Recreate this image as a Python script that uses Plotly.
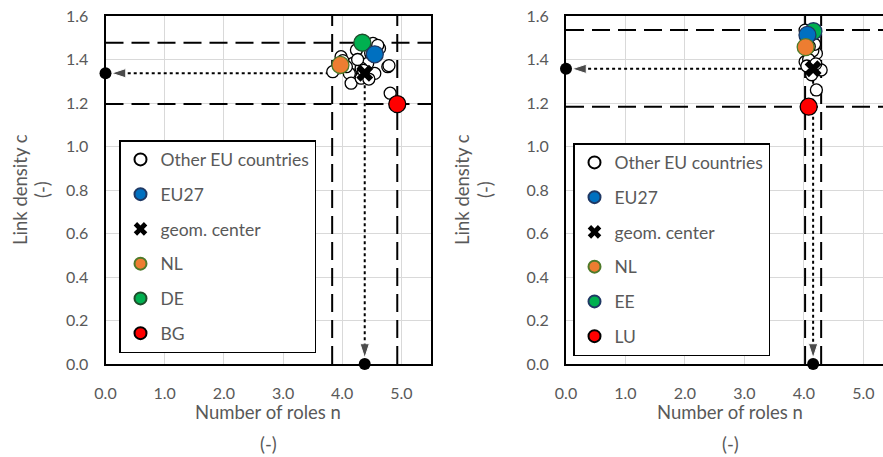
import plotly.graph_objects as go

# ---------------- data ----------------
L_other_n = [3.84, 3.98, 4.18, 4.12, 4.15, 4.32, 4.24, 4.52, 4.63, 4.55, 4.43, 4.77, 4.81,
             4.32, 4.07, 4.01, 4.60, 4.48, 4.26, 4.36, 4.79, 4.45]
L_other_c = [1.344, 1.413, 1.382, 1.336, 1.291, 1.314, 1.444, 1.474, 1.451, 1.336, 1.382, 1.367, 1.245,
             1.360, 1.367, 1.395, 1.465, 1.430, 1.400, 1.350, 1.372, 1.310]
L_named = ["EU27", "NL", "DE", "BG"]
L_named_n = [4.55, 3.97, 4.34, 4.93]
L_named_c = [1.424, 1.375, 1.477, 1.195]
L_center_n = [4.38]
L_center_c = [1.337]
L_bounds_n = [3.83, 4.93]
L_bounds_c = [1.195, 1.477]

R_other_n = [4.02, 4.21, 4.02, 4.29, 4.21, 4.06, 4.10, 4.12, 4.15, 4.08, 4.18, 4.05, 4.13,
             4.20, 4.11, 4.09]
R_other_c = [1.535, 1.428, 1.390, 1.352, 1.260, 1.500, 1.480, 1.520, 1.440, 1.400, 1.470, 1.370, 1.330,
             1.380, 1.510, 1.460]
R_named = ["EU27", "NL", "EE", "LU"]
R_named_n = [4.06, 4.03, 4.16, 4.08]
R_named_c = [1.513, 1.457, 1.530, 1.183]
R_center_n = [4.155]
R_center_c = [1.357]
R_bounds_n = [4.02, 4.29]
R_bounds_c = [1.183, 1.536]

x_ticks = [0, 1, 2, 3, 4, 5]
y_ticks = [0.0, 0.2, 0.4, 0.6, 0.8, 1.0, 1.2, 1.4, 1.6]

FONT = "Lato"
GRAY = "#595959"
W, H = 883, 457
colors = {"EU27": "#0070C0", "NL": "#ED7D31", "DE": "#00B050", "EE": "#00B050", "BG": "#FF0000", "LU": "#FF0000"}
edge = {"EU27": "#1F3864", "NL": "#4E7A2A", "DE": "#1E4D2B", "EE": "#1F3864", "BG": "#000000", "LU": "#000000"}
rank = {"EU27": 2, "NL": 4, "DE": 5, "EE": 5, "BG": 6, "LU": 6}

fig = go.Figure()


def add_panel(xa, ya, leg, other_n, other_c, names, nn, nc, cn, cc, bn, bc, xmax, draw_order):
    vx, vy = [], []
    for b in bn:
        vx += [b, b, None]
        vy += [0, 1.6, None]
    for b in bc:
        vx += [0, xmax, None]
        vy += [b, b, None]
    fig.add_trace(go.Scatter(x=vx, y=vy, mode="lines", xaxis=xa, yaxis=ya, showlegend=False,
                             line=dict(color="black", width=2, dash="18px,8px"), hoverinfo="skip"))
    for px, py in [([cn[0], 0], [cc[0], cc[0]]), ([cn[0], cn[0]], [cc[0], 0])]:
        fig.add_trace(go.Scatter(x=px, y=py, mode="lines+markers", xaxis=xa, yaxis=ya,
                                 showlegend=False, cliponaxis=False,
                                 line=dict(color="black", width=2, dash="dot"),
                                 marker=dict(symbol=["circle", "arrow"], size=[0, 15], color="black",
                                             angleref="previous", standoff=6), hoverinfo="skip"))
    fig.add_trace(go.Scatter(x=[0, cn[0]], y=[cc[0], 0], mode="markers", xaxis=xa, yaxis=ya,
                             showlegend=False, cliponaxis=False,
                             marker=dict(symbol="circle", size=12, color="black"), hoverinfo="skip"))
    fig.add_trace(go.Scatter(x=other_n, y=other_c, mode="markers", xaxis=xa, yaxis=ya, legend=leg,
                             name="Other EU countries", legendgroup=leg + "o", legendrank=1,
                             cliponaxis=False,
                             marker=dict(symbol="circle", size=12, color="white",
                                         line=dict(color="black", width=1.3))))
    fig.add_trace(go.Scatter(x=cn, y=cc, mode="markers", xaxis=xa, yaxis=ya, legend=leg,
                             name="geom. center", legendgroup=leg + "c", legendrank=3,
                             marker=dict(symbol="x", size=15, color="black",
                                         line=dict(color="black", width=0))))
    for nm in draw_order:
        i = names.index(nm)
        fig.add_trace(go.Scatter(x=[nn[i]], y=[nc[i]], mode="markers", xaxis=xa, yaxis=ya, legend=leg,
                                 name=nm, legendgroup=leg + nm, legendrank=rank[nm], cliponaxis=False,
                                 marker=dict(symbol="circle", size=17, color=colors[nm],
                                             line=dict(color=edge[nm], width=1.3))))


add_panel("x", "y", "legend", L_other_n, L_other_c, L_named, L_named_n, L_named_c,
          L_center_n, L_center_c, L_bounds_n, L_bounds_c, 5.5, ["NL", "DE", "EU27", "BG"])
add_panel("x2", "y2", "legend2", R_other_n, R_other_c, R_named, R_named_n, R_named_c,
          R_center_n, R_center_c, R_bounds_n, R_bounds_c, 5.33, ["EE", "EU27", "NL", "LU"])

ax_common = dict(showgrid=True, gridcolor="#d9d9d9", gridwidth=1, zeroline=False, showline=True,
                 linecolor="black", linewidth=2, ticks="", automargin=False,
                 tickfont=dict(family=FONT, size=16, color=GRAY))

yd = [1 - 364 / H, 1 - 16 / H]
fig.update_layout(
    width=W, height=H, margin=dict(l=0, r=0, t=0, b=0, pad=0, autoexpand=False),
    paper_bgcolor="white", plot_bgcolor="white",
    font=dict(family=FONT, color=GRAY),
    xaxis=dict(domain=[105.5 / W, 431 / W], range=[0, 5.5], tickvals=x_ticks, tickformat=".1f",
               mirror=True, anchor="y", ticklabelstandoff=14, **ax_common),
    yaxis=dict(domain=yd, range=[0, 1.6], tickvals=y_ticks, tickformat=".1f",
               mirror=True, anchor="x", ticklabelstandoff=12, **ax_common),
    xaxis2=dict(domain=[566 / W, 1.0], range=[0, 5.33], tickvals=x_ticks, tickformat=".1f",
                mirror=True, anchor="y2", ticklabelstandoff=14, **ax_common),
    yaxis2=dict(domain=yd, range=[0, 1.6], tickvals=y_ticks, tickformat=".1f",
                mirror=False, anchor="x2", ticklabelstandoff=12, **ax_common),
    legend=dict(x=119 / W, y=1 - 140 / H, xanchor="left", yanchor="top", bgcolor="white",
                bordercolor="black", borderwidth=1.5, font=dict(family=FONT, size=17.5, color=GRAY),
                tracegroupgap=9, itemsizing="constant"),
    legend2=dict(x=573 / W, y=1 - 143 / H, xanchor="left", yanchor="top", bgcolor="white",
                 bordercolor="black", borderwidth=1.5, font=dict(family=FONT, size=17.5, color=GRAY),
                 tracegroupgap=9, itemsizing="constant"),
)

ann = []
for xc in [268 / W, 730 / W]:
    ann.append(dict(x=xc, y=1 - 412 / H, xref="paper", yref="paper", text="Number of roles n",
                    xanchor="center", yanchor="middle",
                    showarrow=False, font=dict(family=FONT, size=18.5, color=GRAY)))
    ann.append(dict(x=xc, y=1 - 444 / H, xref="paper", yref="paper", text="(-)",
                    xanchor="center", yanchor="middle",
                    showarrow=False, font=dict(family=FONT, size=18.5, color=GRAY)))
for xa, xb in [(20, 42), (462, 485)]:
    ann.append(dict(x=xa / W, y=1 - 190 / H, xref="paper", yref="paper", text="Link density c",
                    xanchor="center", yanchor="middle",
                    textangle=-90, showarrow=False, font=dict(family=FONT, size=18.5, color=GRAY)))
    ann.append(dict(x=xb / W, y=1 - 190 / H, xref="paper", yref="paper", text="(-)",
                    xanchor="center", yanchor="middle",
                    textangle=-90, showarrow=False, font=dict(family=FONT, size=18.5, color=GRAY)))
fig.update_layout(annotations=ann)

fig.write_html("out.html", config={"displayModeBar": False},
               post_script="document.body.style.margin='0';")
